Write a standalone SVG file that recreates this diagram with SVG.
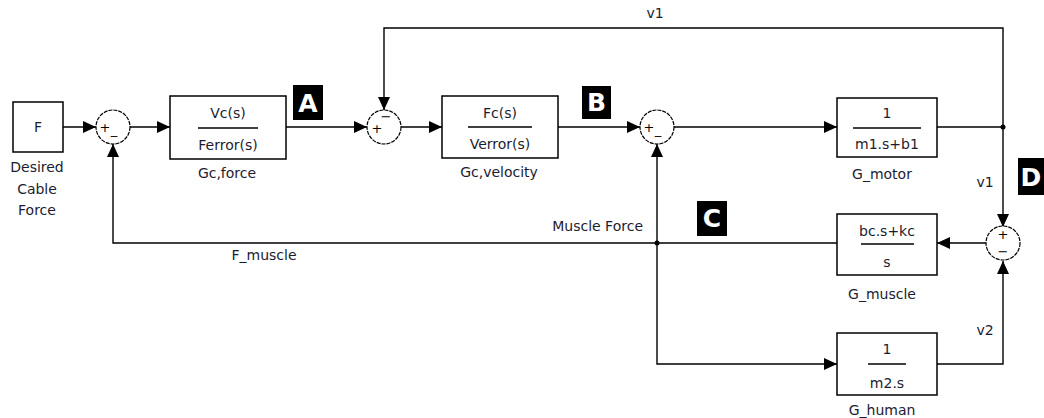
<svg xmlns="http://www.w3.org/2000/svg" width="1044" height="418" viewBox="0 0 1044 418">
<style>
.blk{fill:#fff;stroke:#000;stroke-width:1.5}
.sum{fill:#fff;stroke:#000;stroke-width:1.2;stroke-dasharray:4 1}
.t{font-family:"DejaVu Sans",sans-serif;font-size:14px;fill:#1c1c30;text-anchor:middle}
.s{font-family:"DejaVu Sans",sans-serif;font-size:13px;fill:#000;text-anchor:middle}
.fr{stroke:#000;stroke-width:1.3}
.w{stroke:#000;stroke-width:1.4;fill:none}
.lb{fill:#000}
.lt{font-family:"DejaVu Sans",sans-serif;font-weight:bold;font-size:25px;fill:#fff;text-anchor:middle}
</style>
<defs>
<marker id="ar" markerUnits="userSpaceOnUse" markerWidth="14" markerHeight="12" refX="13" refY="6" orient="auto">
<path d="M0,0 L13,6 L0,12 z" fill="#000"/>
</marker>
</defs>
<g id="connectors">
<path class="w" d="M63,127 H96" marker-end="url(#ar)"/>
<path class="w" d="M130,127 H170" marker-end="url(#ar)"/>
<path class="w" d="M286,127 H367" marker-end="url(#ar)"/>
<path class="w" d="M1003,127 V28 H384 V110" marker-end="url(#ar)"/>
<path class="w" d="M401,127 H442" marker-end="url(#ar)"/>
<path class="w" d="M558,127 H640" marker-end="url(#ar)"/>
<path class="w" d="M674,127 H837" marker-end="url(#ar)"/>
<path class="w" d="M937,127 H1003"/>
<path class="w" d="M1003,127 V227" marker-end="url(#ar)"/>
<path class="w" d="M986,243 H937" marker-end="url(#ar)"/>
<path class="w" d="M837,243 H113 V144" marker-end="url(#ar)"/>
<path class="w" d="M657,243 V144" marker-end="url(#ar)"/>
<path class="w" d="M657,243 V364 H837" marker-end="url(#ar)"/>
<path class="w" d="M937,364 H1003 V261" marker-end="url(#ar)"/>
<circle cx="1003" cy="127" r="2.5" fill="#000"/>
<circle cx="657" cy="243" r="2.5" fill="#000"/>
<text class="t" x="655" y="18">v1</text>
<text class="t" x="985" y="187">v1</text>
<text class="t" x="985" y="335">v2</text>
<text class="t" x="643" y="231" style="text-anchor:end">Muscle Force</text>
<text class="t" x="264" y="260">F_muscle</text>
</g>
<g id="F">
<rect class="blk" x="13" y="102" width="50" height="50"/>
<text class="t" x="38" y="132">F</text>
<text class="t" x="37" y="172">Desired</text>
<text class="t" x="37" y="194">Cable</text>
<text class="t" x="37" y="215">Force</text>
</g>
<g id="sum1">
<circle class="sum" cx="113" cy="127" r="17"/>
<text class="s" x="105" y="132">+</text>
<text class="s" x="114" y="134">_</text>
</g>
<g id="Gc_force">
<rect class="blk" x="170" y="96" width="116" height="63"/>
<text class="t" x="228" y="118">Vc(s)</text>
<line class="fr" x1="198" y1="128" x2="258" y2="128"/>
<text class="t" x="228" y="150">Ferror(s)</text>
<text class="t" x="227" y="178">Gc,force</text>
</g>
<g id="A">
<rect class="lb" x="293" y="85" width="30" height="35"/>
<text class="lt" x="308" y="112">A</text>
</g>
<g id="sum2">
<circle class="sum" cx="384" cy="127" r="17"/>
<text class="s" x="377" y="133">+</text>
<text class="s" x="386" y="121">−</text>
</g>
<g id="Gc_velocity">
<rect class="blk" x="442" y="96" width="116" height="62"/>
<text class="t" x="500" y="118">Fc(s)</text>
<line class="fr" x1="468" y1="127" x2="532" y2="127"/>
<text class="t" x="500" y="149">Verror(s)</text>
<text class="t" x="499" y="177">Gc,velocity</text>
</g>
<g id="B">
<rect class="lb" x="582" y="86" width="29" height="33"/>
<text class="lt" x="596.5" y="111">B</text>
</g>
<g id="sum3">
<circle class="sum" cx="657" cy="127" r="17"/>
<text class="s" x="649" y="132">+</text>
<text class="s" x="658" y="134">_</text>
</g>
<g id="G_motor">
<rect class="blk" x="837" y="98" width="100" height="59"/>
<text class="t" x="887" y="118">1</text>
<line class="fr" x1="853" y1="128" x2="921" y2="128"/>
<text class="t" x="887" y="149">m1.s+b1</text>
<text class="t" x="882" y="179">G_motor</text>
</g>
<g id="D">
<rect class="lb" x="1018" y="158" width="26" height="37"/>
<text class="lt" x="1031" y="186">D</text>
</g>
<g id="C">
<rect class="lb" x="697" y="201" width="30" height="35"/>
<text class="lt" x="712" y="227">C</text>
</g>
<g id="G_muscle">
<rect class="blk" x="837" y="214" width="100" height="61"/>
<text class="t" x="887" y="236">bc.s+kc</text>
<line class="fr" x1="861" y1="244" x2="914" y2="244"/>
<text class="t" x="887" y="267">s</text>
<text class="t" x="882" y="299">G_muscle</text>
</g>
<g id="sum4">
<circle class="sum" cx="1003" cy="243" r="17"/>
<text class="s" x="1003" y="239">+</text>
<text class="s" x="1003" y="256">−</text>
</g>
<g id="G_human">
<rect class="blk" x="837" y="333" width="100" height="62"/>
<text class="t" x="887" y="354">1</text>
<line class="fr" x1="868" y1="364" x2="906" y2="364"/>
<text class="t" x="887" y="388">m2.s</text>
<text class="t" x="882" y="415">G_human</text>
</g>
</svg>
